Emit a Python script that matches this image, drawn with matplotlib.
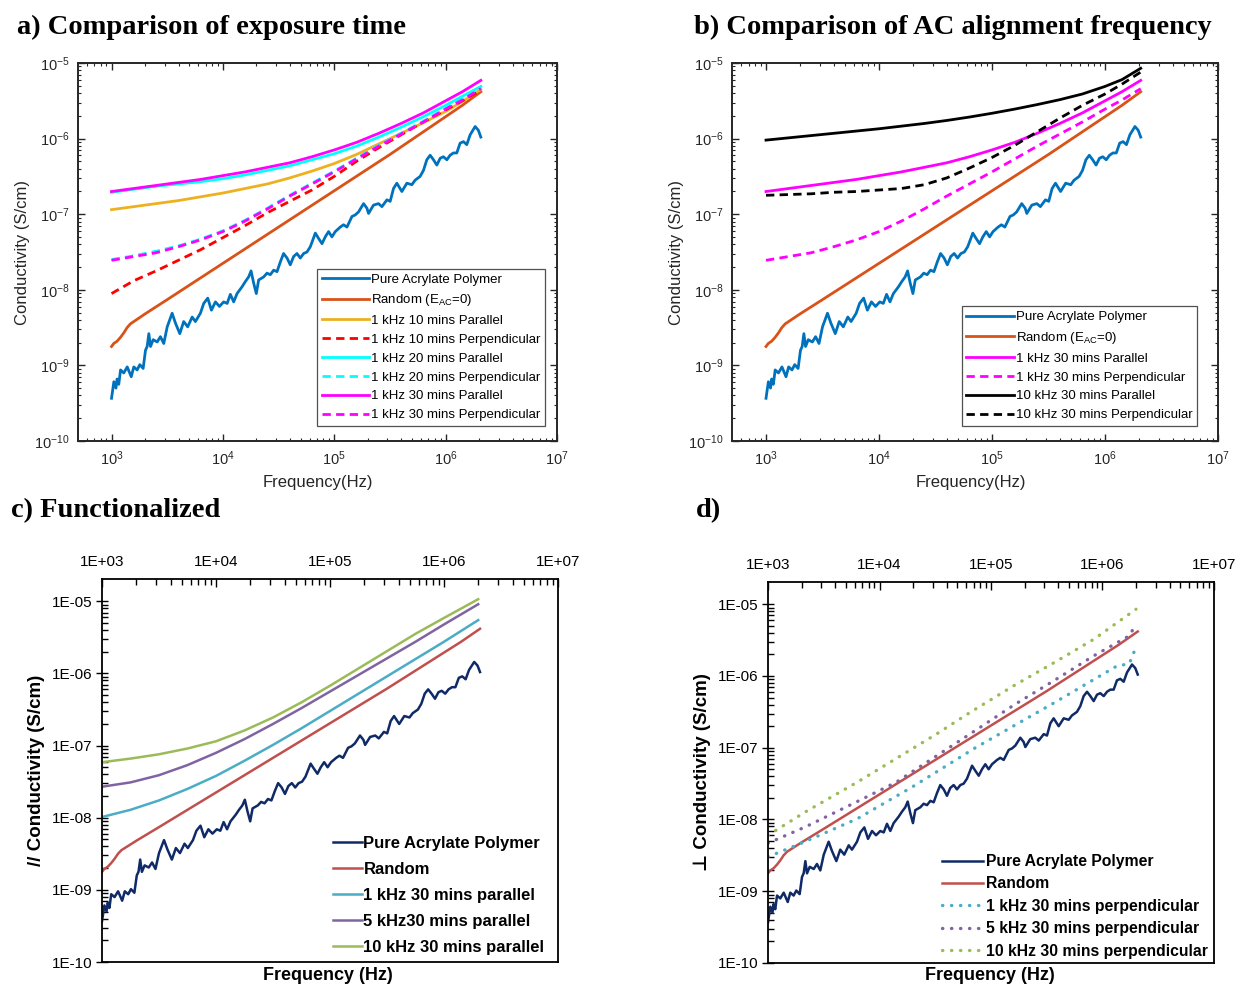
import numpy as np
import matplotlib
matplotlib.use("Agg")
import matplotlib.pyplot as plt
from matplotlib.ticker import LogLocator, FixedLocator, FuncFormatter, NullFormatter

plt.rcParams['font.family'] = ['Liberation Sans', 'DejaVu Sans']
plt.rcParams['mathtext.fontset'] = 'custom'
plt.rcParams['mathtext.rm'] = 'Liberation Sans'
plt.rcParams['mathtext.it'] = 'Liberation Sans:italic'
plt.rcParams['mathtext.bf'] = 'Liberation Sans:bold'

# ---------------- data (log10 frequency [Hz], log10 conductivity [S/cm]) ----------------
pure_logf = [3.000, 3.021, 3.040, 3.050, 3.065, 3.081, 3.110, 3.141, 3.177, 3.200, 3.230, 3.254,
             3.284, 3.305, 3.320, 3.335, 3.350, 3.374, 3.410, 3.439, 3.469, 3.500, 3.544, 3.574,
             3.613, 3.648, 3.684, 3.724, 3.753, 3.798, 3.828, 3.864, 3.897, 3.933, 3.969, 4.007,
             4.038, 4.067, 4.097, 4.127, 4.172, 4.202, 4.231, 4.253, 4.276, 4.300, 4.321, 4.366,
             4.396, 4.426, 4.456, 4.486, 4.516, 4.545, 4.576, 4.605, 4.635, 4.665, 4.695, 4.725,
             4.755, 4.785, 4.830, 4.859, 4.890, 4.919, 4.949, 4.979, 5.009, 5.054, 5.083, 5.114,
             5.159, 5.188, 5.218, 5.263, 5.293, 5.308, 5.352, 5.397, 5.428, 5.473, 5.502, 5.532,
             5.562, 5.607, 5.652, 5.697, 5.726, 5.771, 5.801, 5.831, 5.861, 5.891, 5.921, 5.951,
             5.980, 6.011, 6.040, 6.070, 6.100, 6.130, 6.160, 6.190, 6.220, 6.265, 6.294, 6.316]
pure_logs = [-9.435, -9.216, -9.30, -9.18, -9.25, -9.06, -9.10, -9.02, -9.15, -9.02, -9.06, -8.99,
             -9.04, -8.80, -8.75, -8.58, -8.75, -8.66, -8.69, -8.62, -8.71, -8.49, -8.31, -8.44,
             -8.58, -8.42, -8.49, -8.36, -8.42, -8.31, -8.18, -8.11, -8.27, -8.16, -8.22, -8.16,
             -8.18, -8.06, -8.16, -8.05, -7.96, -7.89, -7.83, -7.75, -7.91, -8.05, -7.87, -7.83,
             -7.78, -7.80, -7.74, -7.76, -7.63, -7.52, -7.58, -7.67, -7.56, -7.52, -7.58, -7.52,
             -7.50, -7.43, -7.25, -7.32, -7.39, -7.30, -7.23, -7.30, -7.23, -7.17, -7.14, -7.17,
             -7.03, -7.01, -6.97, -6.86, -6.92, -6.99, -6.88, -6.86, -6.90, -6.81, -6.83, -6.66,
             -6.59, -6.70, -6.59, -6.61, -6.55, -6.50, -6.42, -6.28, -6.22, -6.28, -6.35, -6.26,
             -6.24, -6.28, -6.22, -6.19, -6.19, -6.06, -6.04, -6.08, -5.95, -5.84, -5.89, -5.98]

random_logf = [3.000, 3.020, 3.050, 3.080, 3.110, 3.140, 3.170, 3.200, 3.250, 3.300, 3.500, 3.750,
               4.000, 4.250, 4.500, 4.750, 5.000, 5.250, 5.500, 5.750, 6.000, 6.150, 6.316]
random_logs = [-8.75, -8.71, -8.68, -8.63, -8.57, -8.50, -8.45, -8.42, -8.37, -8.32, -8.13, -7.89,
               -7.65, -7.41, -7.17, -6.93, -6.69, -6.45, -6.21, -5.96, -5.71, -5.56, -5.38]

# panel a / b smooth curves
curve_logf = [3.0, 3.2, 3.4, 3.6, 3.8, 4.0, 4.2, 4.4, 4.6, 4.8, 5.0, 5.2, 5.4, 5.6, 5.8, 6.0, 6.15, 6.316]
par10_logs = [-6.94, -6.90, -6.86, -6.82, -6.77, -6.72, -6.66, -6.60, -6.52, -6.43, -6.33, -6.21,
              -6.07, -5.93, -5.79, -5.64, -5.51, -5.35]
perp10_logs = [-8.05, -7.88, -7.75, -7.61, -7.47, -7.31, -7.15, -6.98, -6.83, -6.68, -6.50, -6.30,
               -6.12, -5.95, -5.78, -5.62, -5.50, -5.36]
par20_logs = [-6.71, -6.67, -6.63, -6.60, -6.57, -6.53, -6.48, -6.42, -6.36, -6.28, -6.20, -6.10,
              -5.98, -5.85, -5.71, -5.56, -5.44, -5.31]
perp20_logs = [-7.60, -7.55, -7.49, -7.42, -7.33, -7.22, -7.08, -6.92, -6.75, -6.59, -6.43, -6.26,
               -6.09, -5.93, -5.77, -5.60, -5.47, -5.32]
par30_logs = [-6.70, -6.66, -6.62, -6.58, -6.54, -6.49, -6.44, -6.38, -6.32, -6.24, -6.15, -6.05,
              -5.93, -5.80, -5.66, -5.50, -5.38, -5.23]
perp30_logs = [-7.61, -7.56, -7.51, -7.43, -7.34, -7.23, -7.09, -6.93, -6.76, -6.60, -6.44, -6.27,
               -6.10, -5.94, -5.78, -5.61, -5.49, -5.34]
par10k_logs = [-6.02, -5.99, -5.96, -5.93, -5.90, -5.87, -5.835, -5.80, -5.76, -5.715, -5.665, -5.61,
               -5.55, -5.485, -5.41, -5.31, -5.22, -5.07]
perp10k_logs = [-6.75, -6.74, -6.73, -6.71, -6.70, -6.68, -6.66, -6.61, -6.52, -6.39, -6.25, -6.09,
                -5.91, -5.73, -5.56, -5.41, -5.28, -5.12]

# panel c (functionalized, parallel)
c_logf = [3.0, 3.25, 3.5, 3.75, 4.0, 4.25, 4.5, 4.75, 5.0, 5.25, 5.5, 5.75, 6.0, 6.3]
c_par1k_logs = [-7.99, -7.89, -7.76, -7.60, -7.42, -7.21, -6.99, -6.76, -6.52, -6.28, -6.04,
                -5.80, -5.56, -5.26]
c_par5k_logs = [-7.57, -7.51, -7.41, -7.27, -7.10, -6.91, -6.70, -6.48, -6.25, -6.02, -5.79,
                -5.56, -5.32, -5.04]
c_par10k_logs = [-7.23, -7.18, -7.12, -7.04, -6.94, -6.79, -6.61, -6.40, -6.17, -5.93, -5.69,
                 -5.45, -5.23, -4.97]

# panel d (functionalized, perpendicular)
d1_logf = [3.0, 3.3, 3.8, 4.29, 4.86, 5.57, 6.13, 6.24, 6.30]
d_perp1k_logs = [-8.52, -8.33, -7.99, -7.55, -7.00, -6.37, -5.86, -5.83, -5.60]
d5_logf = [3.0, 3.34, 3.80, 4.15, 4.82, 5.21, 5.57, 5.92, 6.24, 6.30]
d_perp5k_logs = [-8.33, -8.10, -7.75, -7.48, -6.80, -6.40, -6.06, -5.72, -5.44, -5.28]
d10_logf = [3.0, 3.34, 3.80, 4.15, 4.51, 4.82, 5.21, 5.57, 5.92, 6.30]
d_perp10k_logs = [-8.22, -7.89, -7.48, -7.15, -6.81, -6.50, -6.13, -5.81, -5.49, -5.07]

labels_a = ["Pure Acrylate Polymer", r"Random (E$_{\mathrm{AC}}$=0)", "1 kHz 10 mins Parallel",
            "1 kHz 10 mins Perpendicular", "1 kHz 20 mins Parallel", "1 kHz 20 mins Perpendicular",
            "1 kHz 30 mins Parallel", "1 kHz 30 mins Perpendicular"]
labels_b = ["Pure Acrylate Polymer", r"Random (E$_{\mathrm{AC}}$=0)", "1 kHz 30 mins Parallel",
            "1 kHz 30 mins Perpendicular", "10 kHz 30 mins Parallel", "10 kHz 30 mins Perpendicular"]
labels_c = ["Pure Acrylate Polymer", "Random", "1 kHz 30 mins parallel", "5 kHz30 mins parallel",
            "10 kHz 30 mins parallel"]
labels_d = ["Pure Acrylate Polymer", "Random", "1 kHz 30 mins perpendicular",
            "5 kHz 30 mins perpendicular", "10 kHz 30 mins perpendicular"]


def P(v):
    return 10.0 ** np.asarray(v, dtype=float)


W, H = 1238, 986
fig = plt.figure(figsize=(W / 100, H / 100), dpi=100)


def add_axes_px(l, r, t, b):
    return fig.add_axes([l / W, 1 - b / H, (r - l) / W, (b - t) / H])


def minor_ticks(lo_exp, hi_exp, lo, hi):
    vals = [m * 10.0 ** e for e in range(lo_exp, hi_exp) for m in range(2, 10)]
    return [v for v in vals if lo < v < hi]


def matlab_style(ax):
    ax.set_xscale('log')
    ax.set_yscale('log')
    ax.set_xlim(500, 1e7)
    ax.set_ylim(1e-10, 1e-5)
    ax.xaxis.set_major_locator(FixedLocator([1e3, 1e4, 1e5, 1e6, 1e7]))
    ax.yaxis.set_major_locator(FixedLocator([1e-10, 1e-9, 1e-8, 1e-7, 1e-6, 1e-5]))
    ax.xaxis.set_minor_locator(FixedLocator(minor_ticks(2, 7, 500, 1e7)))
    ax.yaxis.set_minor_locator(FixedLocator(minor_ticks(-10, -5, 1e-10, 1e-5)))
    ax.yaxis.set_minor_formatter(NullFormatter())
    ax.xaxis.set_minor_formatter(NullFormatter())
    fmt = FuncFormatter(lambda v, _: r"$\mathdefault{10^{%d}}$" % int(round(np.log10(v))))
    ax.xaxis.set_major_formatter(fmt)
    ax.yaxis.set_major_formatter(fmt)
    ax.tick_params(which='both', direction='in', top=True, right=True, colors='#262626',
                   labelcolor='#262626', labelsize=10.5)
    ax.tick_params(which='major', length=5, width=1.0, pad=6)
    ax.tick_params(which='minor', length=2.5, width=0.8)
    for s in ax.spines.values():
        s.set_linewidth(1.4)
        s.set_color('#262626')


MB, MO, MY = '#0072BD', '#D95319', '#EDB120'
LW = 2.0
DASH = (0, (3.0, 1.9))
LEGKW = dict(loc='lower right', borderaxespad=0, fontsize=9.5, labelspacing=0.5,
             handlelength=3.6, handletextpad=0.15, frameon=True, fancybox=False,
             edgecolor='#262626', borderpad=0.35)

# ---------------- panel a ----------------
axa = add_axes_px(78, 557, 63, 441)
matlab_style(axa)
axa.plot(P(pure_logf), P(pure_logs), color=MB, lw=LW)
axa.plot(P(random_logf), P(random_logs), color=MO, lw=LW)
axa.plot(P(curve_logf), P(par10_logs), color=MY, lw=LW)
axa.plot(P(curve_logf), P(perp10_logs), color='#FF0000', lw=LW, ls=DASH)
axa.plot(P(curve_logf), P(par20_logs), color='#00FFFF', lw=LW)
axa.plot(P(curve_logf), P(perp20_logs), color='#00FFFF', lw=LW, ls=DASH)
axa.plot(P(curve_logf), P(par30_logs), color='#FF00FF', lw=LW)
axa.plot(P(curve_logf), P(perp30_logs), color='#FF00FF', lw=LW, ls=DASH)
leg = axa.legend(labels_a, bbox_to_anchor=(0.975, 0.04), **LEGKW)
leg.get_frame().set_linewidth(0.9)

# ---------------- panel b ----------------
axb = add_axes_px(732, 1218, 63, 441)
matlab_style(axb)
axb.plot(P(pure_logf), P(pure_logs), color=MB, lw=LW)
axb.plot(P(random_logf), P(random_logs), color=MO, lw=LW)
axb.plot(P(curve_logf), P(par30_logs), color='#FF00FF', lw=LW)
axb.plot(P(curve_logf), P(perp30_logs), color='#FF00FF', lw=LW, ls=DASH)
axb.plot(P(curve_logf), P(par10k_logs), color='k', lw=LW)
axb.plot(P(curve_logf), P(perp10k_logs), color='k', lw=LW, ls=DASH)
leg = axb.legend(labels_b, bbox_to_anchor=(0.957, 0.04), **LEGKW)
leg.get_frame().set_linewidth(0.9)

C_YTOP = 10 ** -4.69


def excel_style(ax):
    ax.set_xscale('log')
    ax.set_yscale('log')
    ax.set_xlim(1e3, 1e7)
    ax.set_ylim(1e-10, C_YTOP)
    ax.xaxis.set_major_locator(FixedLocator([1e3, 1e4, 1e5, 1e6, 1e7]))
    ax.yaxis.set_major_locator(FixedLocator([1e-10, 1e-9, 1e-8, 1e-7, 1e-6, 1e-5]))
    ax.xaxis.set_minor_locator(FixedLocator(minor_ticks(3, 7, 1e3, 1e7)))
    ax.yaxis.set_minor_locator(FixedLocator(minor_ticks(-10, -5, 1e-10, C_YTOP)))
    fmt = FuncFormatter(lambda v, _: "1E%+03d" % int(round(np.log10(v))))
    ax.xaxis.set_major_formatter(fmt)
    ax.yaxis.set_major_formatter(fmt)
    ax.xaxis.set_minor_formatter(NullFormatter())
    ax.yaxis.set_minor_formatter(NullFormatter())
    ax.xaxis.tick_top()
    ax.tick_params(axis='x', which='both', direction='in', top=True, bottom=False,
                   labeltop=True, labelbottom=False)
    ax.tick_params(axis='x', which='major', length=6, width=1, pad=7)
    ax.tick_params(axis='x', which='minor', length=4, width=1)
    ax.tick_params(axis='y', which='major', direction='inout', length=8, width=1, pad=3)
    ax.tick_params(axis='y', which='minor', direction='in', length=4, width=1)
    ax.tick_params(labelsize=11, colors='black')
    for s in ax.spines.values():
        s.set_linewidth(1.3)
        s.set_color('black')


EN, ER, EC, EP, EG = '#0F2A66', '#C0504D', '#4BACC6', '#8064A2', '#9BBB59'
ELW = 1.8

# ---------------- panel c ----------------
axc = add_axes_px(102, 558, 579, 962)
excel_style(axc)
axc.plot(P(pure_logf), P(pure_logs), color=EN, lw=ELW)
axc.plot(P(random_logf), P(random_logs), color=ER, lw=ELW)
axc.plot(P(c_logf), P(c_par1k_logs), color=EC, lw=ELW)
axc.plot(P(c_logf), P(c_par5k_logs), color=EP, lw=ELW)
axc.plot(P(c_logf), P(c_par10k_logs), color=EG, lw=ELW)
axc.legend(labels_c, loc='lower right', bbox_to_anchor=(0.985, 0.0), borderaxespad=0,
           prop={'weight': 'bold', 'size': 12}, labelspacing=0.66, handlelength=1.75,
           handletextpad=0.1, frameon=False)

# ---------------- panel d ----------------
axd = add_axes_px(768, 1214, 582, 963)
excel_style(axd)
axd.plot(P(pure_logf), P(pure_logs), color=EN, lw=ELW)
axd.plot(P(random_logf), P(random_logs), color=ER, lw=ELW)
DOT = (0, (0.1, 2.6))
axd.plot(P(d1_logf), P(d_perp1k_logs), color=EC, lw=2.4, ls=DOT, dash_capstyle='round')
axd.plot(P(d5_logf), P(d_perp5k_logs), color=EP, lw=2.4, ls=DOT, dash_capstyle='round')
axd.plot(P(d10_logf), P(d_perp10k_logs), color=EG, lw=2.4, ls=DOT, dash_capstyle='round')
axd.legend(labels_d, loc='lower right', bbox_to_anchor=(1.0, -0.005), borderaxespad=0,
           prop={'weight': 'bold', 'size': 11.3}, labelspacing=0.47, handlelength=2.6,
           handletextpad=0.2, frameon=False)


# ---------------- texts ----------------
def ftext(x, y, s, **kw):
    fig.text(x / W, 1 - y / H, s, **kw)


TITLE = dict(family='Liberation Serif', weight='bold', size=20.5, va='center', ha='left')
ftext(17, 27, "a) Comparison of exposure time", **TITLE)
ftext(694, 27, "b) Comparison of AC alignment frequency", **TITLE)
ftext(11, 511, "c) Functionalized", **TITLE)
ftext(696, 511, "d)", **TITLE)

ftext(22, 252, "Conductivity (S/cm)", rotation=90, ha='center', va='center', size=12, color='#262626')
ftext(318, 483, "Frequency(Hz)", ha='center', va='center', size=12, color='#262626')
ftext(676, 252, "Conductivity (S/cm)", rotation=90, ha='center', va='center', size=12, color='#262626')
ftext(971, 483, "Frequency(Hz)", ha='center', va='center', size=12, color='#262626')

ftext(37, 770, "// Conductivity (S/cm)", rotation=90, ha='center', va='center', size=13.5, weight='bold')
ftext(328, 975, "Frequency (Hz)", ha='center', va='center', size=13, weight='bold')
ftext(702, 772, "\u22a5 Conductivity (S/cm)", rotation=90, ha='center', va='center', size=13.5,
      weight='bold', family=['Liberation Sans', 'DejaVu Sans'])
ftext(990, 976, "Frequency (Hz)", ha='center', va='center', size=13, weight='bold')

fig.savefig("out.png", dpi=100)
